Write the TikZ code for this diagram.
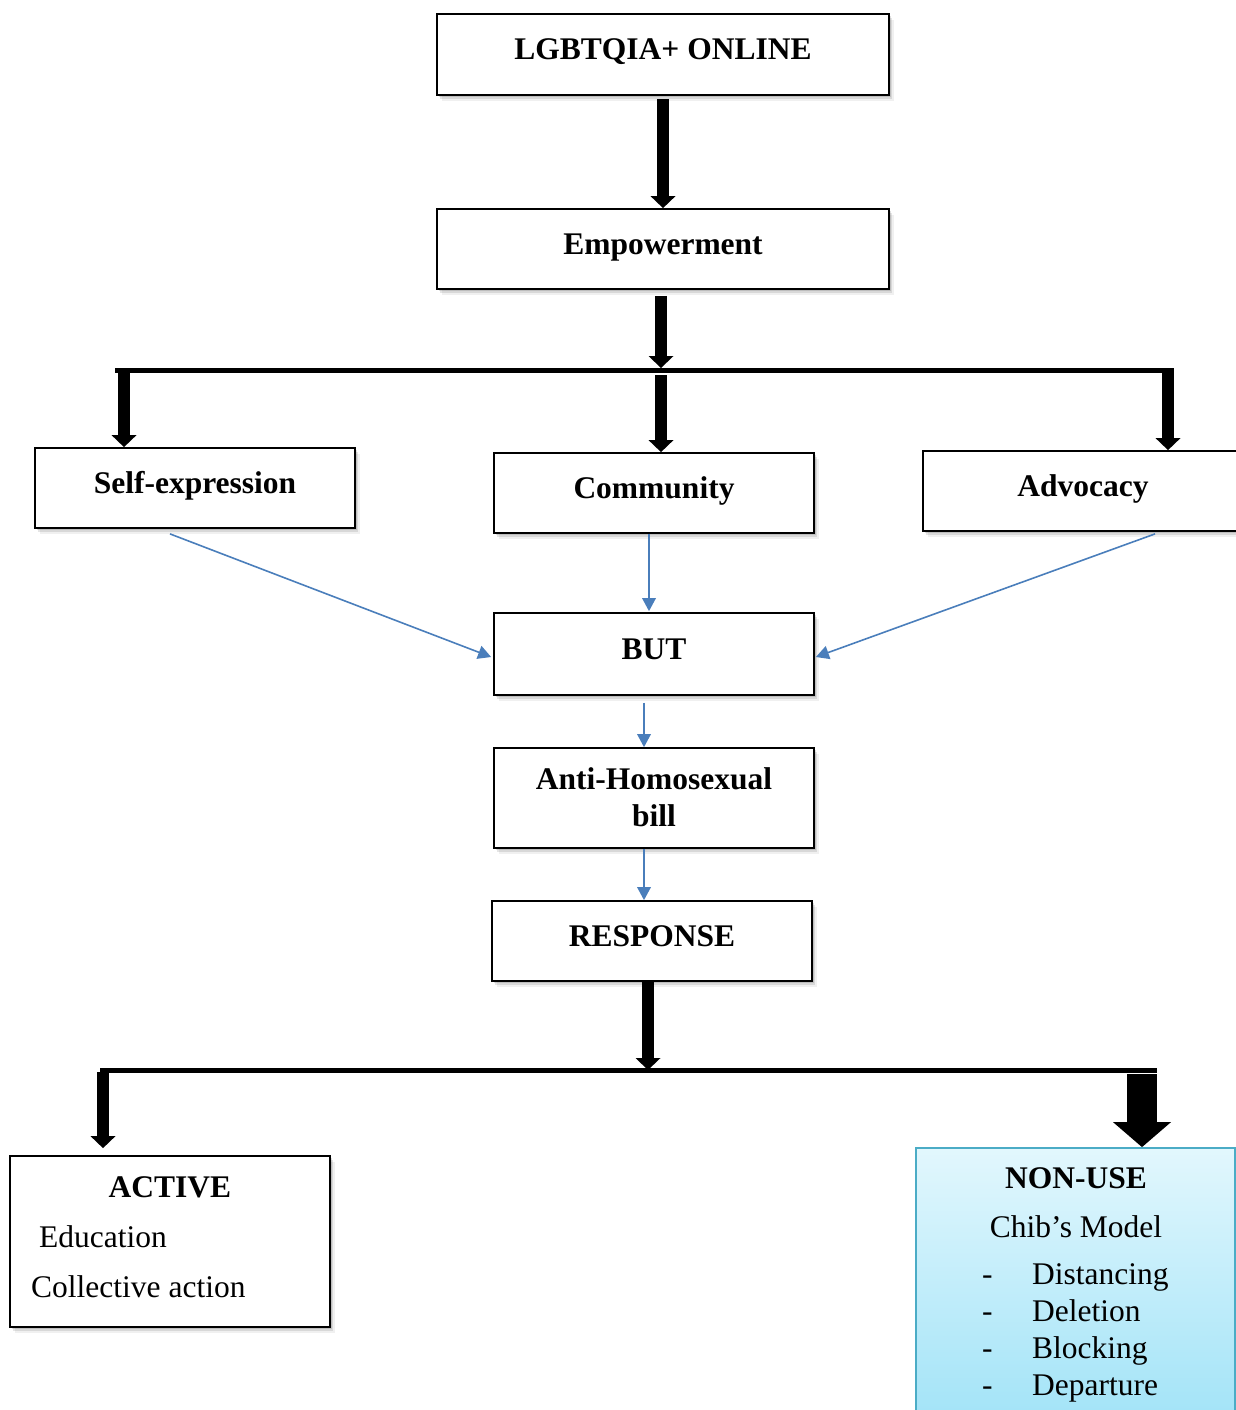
\documentclass[tikz,border=0pt]{standalone}
\usepackage{fontspec}
\setmainfont{Liberation Serif}
\usetikzlibrary{arrows.meta,shadows}
\definecolor{arrowblue}{RGB}{74,126,187}
\definecolor{nuTop}{RGB}{226,247,253}
\definecolor{nuBot}{RGB}{158,226,247}
\definecolor{nuBorder}{RGB}{75,172,198}
\newcommand\bfont{\fontsize{31.5}{37}\selectfont\bfseries}
\newcommand\rfont{\fontsize{31.5}{37}\selectfont}
\tikzset{
  boxshadow/.style={
    drop shadow={shadow xshift=1.5pt,shadow yshift=-2pt,fill=black,opacity=0.12},
    drop shadow={shadow xshift=3pt,shadow yshift=-4pt,fill=black,opacity=0.10},
    drop shadow={shadow xshift=4.5pt,shadow yshift=-6pt,fill=black,opacity=0.06}},
  box/.style={draw=black, line width=1.8pt, fill=white, minimum width=320pt,
    minimum height=80pt, inner sep=0pt, font=\bfont, text height=22pt,
    text depth=12pt, boxshadow},
  bigarrow/.style={line width=12.5pt, -{Triangle[width=25pt,length=12pt,line width=0pt]}},
  hugearrow/.style={line width=30pt, -{Triangle[width=58pt,length=25pt,line width=0pt]}},
  barline/.style={line width=5pt},
  bluearrow/.style={draw=arrowblue, line width=1.6pt,
    -{Triangle[width=14pt,length=13pt,line width=0pt]}, fill=arrowblue},
  txt/.style={inner sep=0pt},
}
\begin{document}
\begin{tikzpicture}[x=1pt,y=-1pt]
\useasboundingbox (0,0) rectangle (1236,1410);

% boxes
\node[box, minimum width=452pt, minimum height=81pt] (lgbt) at (663,54.5) {LGBTQIA+ ONLINE};
\node[box, minimum width=452pt] (emp) at (663,249) {Empowerment};
\node[box] (self) at (195,488) {Self-expression};
\node[box] (comm) at (654,493) {Community};
\node[box] (adv) at (1083,491) {Advocacy};
\node[box, minimum height=82pt] (but) at (654,654) {BUT};
\node[box, minimum height=100pt, align=center, text height=61pt, text depth=5pt] (anti) at (654,798) {Anti-Homosexual\\bill};
\node[box] (resp) at (652,941) {RESPONSE};
\node[box, minimum height=171pt] (active) at (170,1241.5) {};
\node[box, draw=nuBorder, top color=nuTop, bottom color=nuBot, minimum width=319pt, minimum height=292pt] (nonuse) at (1075.5,1294) {};

% texts of ACTIVE box
\node[txt, font=\bfont, anchor=base] (actT) at (170,1197) {ACTIVE};
\node[txt, font=\rfont, anchor=base west] (actE) at (39,1247) {Education};
\node[txt, font=\rfont, anchor=base west] (actC) at (31,1297) {Collective action};

% texts of NON-USE box
\node[txt, font=\bfont, anchor=base] (nuT) at (1076,1188) {NON-USE};
\node[txt, font=\rfont, anchor=base] (nuM) at (1076,1237) {Chib’s Model};
\node[txt, font=\rfont, anchor=base west] (nu1) at (982,1284) {\makebox[50pt][l]{-}Distancing};
\node[txt, font=\rfont, anchor=base west] (nu2) at (982,1321) {\makebox[50pt][l]{-}Deletion};
\node[txt, font=\rfont, anchor=base west] (nu3) at (982,1358) {\makebox[50pt][l]{-}Blocking};
\node[txt, font=\rfont, anchor=base west] (nu4) at (982,1395) {\makebox[50pt][l]{-}Departure};

% thick black connectors, top part
\draw[bigarrow] ([yshift=-3pt]lgbt.south) -- (emp.north);
\coordinate (j1) at (661,368);
\draw[bigarrow] ([xshift=-2pt,yshift=-6pt]emp.south) -- (j1);
\coordinate (b1L) at (115,370.5);
\coordinate (b1R) at (1173.5,370.5);
\draw[barline] (b1L) -- (b1R);
\coordinate (s1) at (124,373);
\coordinate (c1) at (661,375);
\coordinate (a1) at (1168,373);
\draw[bigarrow] (s1) -- (s1 |- self.north);
\draw[bigarrow] (c1) -- (c1 |- comm.north);
\draw[bigarrow] (a1) -- (a1 |- adv.north);

% blue connectors
\draw[bluearrow] ([xshift=-25pt,yshift=-5pt]self.south) -- ([xshift=-2pt,yshift=-3pt]but.west);
\draw[bluearrow] ([xshift=-5pt]comm.south) -- ([xshift=-5pt,yshift=1pt]but.north);
\draw[bluearrow] ([xshift=72pt,yshift=-2pt]adv.south) -- ([xshift=1pt,yshift=-3pt]but.east);
\draw[bluearrow] ([xshift=-10pt,yshift=-7pt]but.south) -- ([xshift=-10pt]anti.north);
\draw[bluearrow] ([xshift=-10pt]anti.south) -- ([xshift=-8pt]resp.north);

% thick black connectors, bottom part
\coordinate (j2) at (648,1070);
\draw[bigarrow] ([xshift=-4pt]resp.south) -- (j2);
\coordinate (b2L) at (100,1070);
\coordinate (b2R) at (1157,1070);
\draw[barline] (b2L) -- (b2R);
\coordinate (act1) at (103,1072);
\draw[bigarrow] (act1) -- ([yshift=7pt]act1 |- active.north);
\coordinate (n1) at (1142,1074);
\draw[hugearrow] (n1) -- (n1 |- nonuse.north);
\end{tikzpicture}
\end{document}
